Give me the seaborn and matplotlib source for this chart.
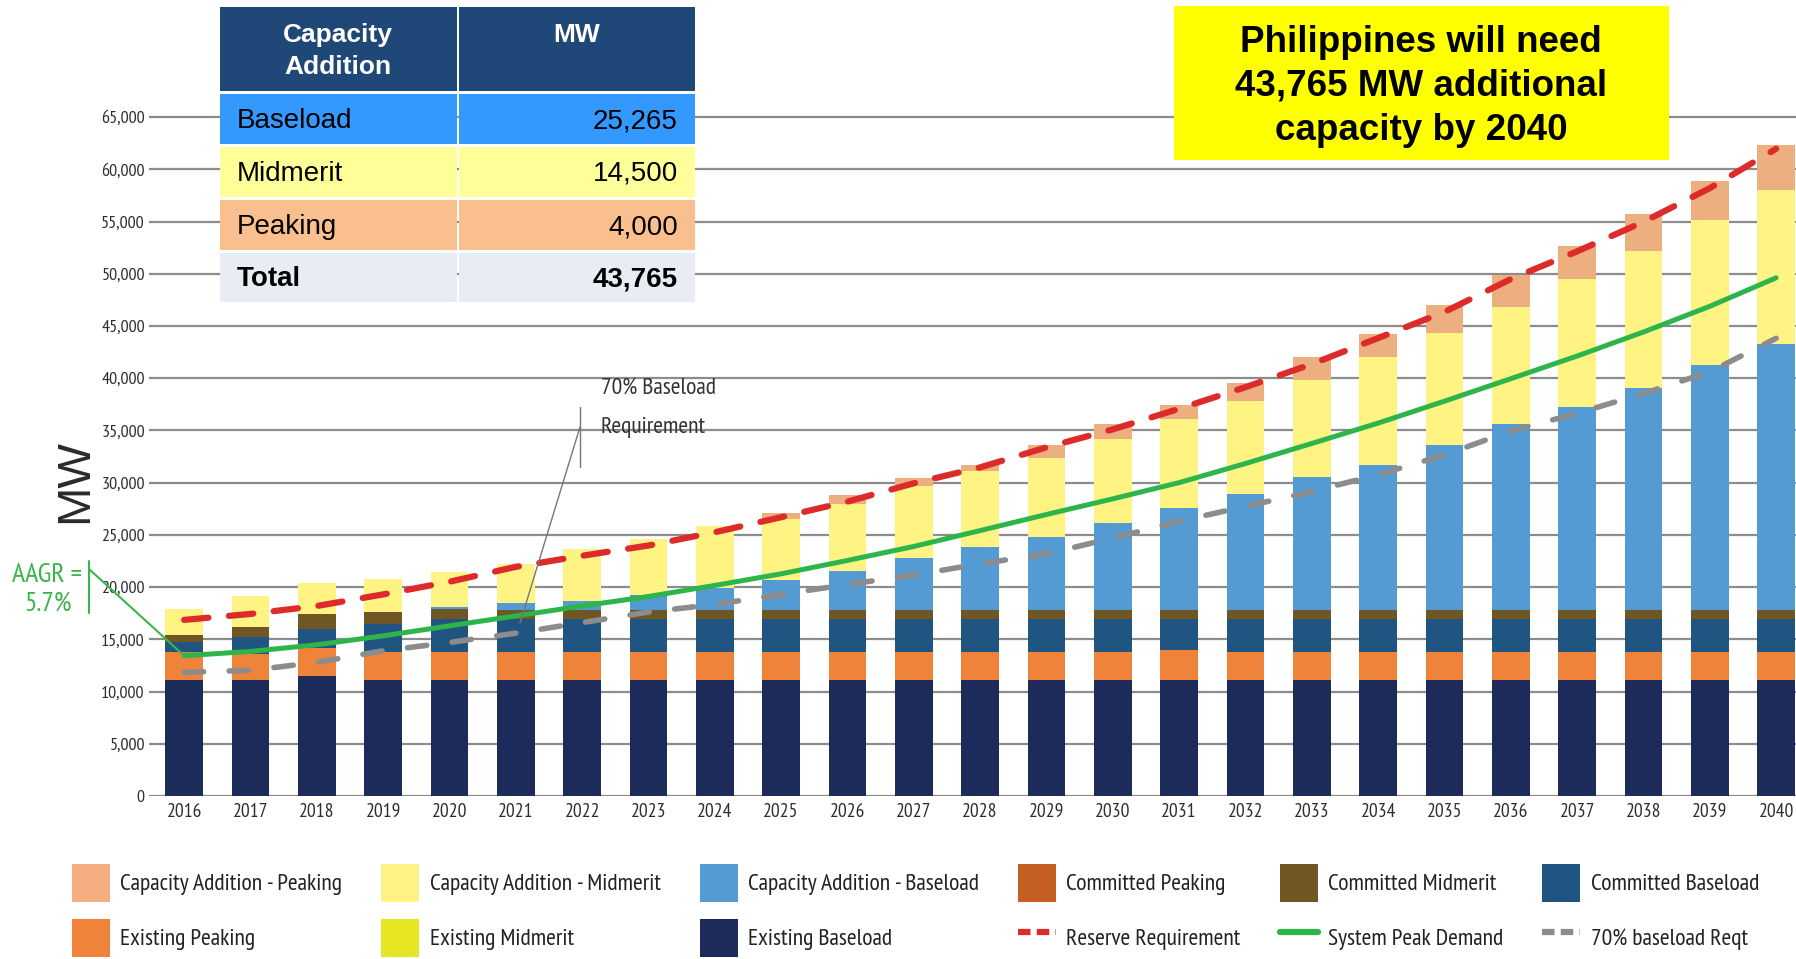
import numpy as np
import pandas as pd
import seaborn as sns
import matplotlib.pyplot as plt
from matplotlib import font_manager
from matplotlib.lines import Line2D
from matplotlib.patches import Patch, Rectangle

# x axis
years = [2016, 2017, 2018, 2019, 2020, 2021, 2022, 2023, 2024, 2025, 2026, 2027, 2028,
         2029, 2030, 2031, 2032, 2033, 2034, 2035, 2036, 2037, 2038, 2039, 2040]

# stacked capacity in MW, bottom to top
existing_baseload = [11080, 11080, 11460, 11100, 11100, 11100, 11100, 11100, 11100, 11100, 11100, 11100, 11100,
                     11100, 11100, 11100, 11100, 11100, 11100, 11100, 11100, 11100, 11100, 11100, 11100]
existing_peaking = [2670, 2480, 2700, 2680, 2680, 2680, 2680, 2680, 2680, 2680, 2680, 2680, 2680,
                    2680, 2680, 2900, 2680, 2680, 2680, 2680, 2680, 2680, 2680, 2680, 2680]
existing_midmerit = [0, 0, 0, 0, 0, 0, 0, 0, 0, 0, 0, 0, 0, 0, 0, 0, 0, 0, 0, 0, 0, 0, 0, 0, 0]
committed_baseload = [1040, 1650, 1870, 2660, 3140, 3120, 3120, 3120, 3120, 3120, 3120, 3120, 3120,
                      3120, 3120, 2900, 3120, 3120, 3120, 3120, 3120, 3120, 3120, 3120, 3120]
committed_midmerit = [640, 1010, 1400, 1210, 950, 900, 900, 900, 900, 900, 900, 900, 900,
                      900, 900, 900, 900, 900, 900, 900, 900, 900, 900, 900, 900]
committed_peaking = [0, 0, 0, 0, 0, 0, 0, 0, 0, 0, 0, 0, 0, 0, 0, 0, 0, 0, 0, 0, 0, 0, 0, 0, 0]
add_baseload = [0, 0, 0, 0, 230, 710, 900, 1400, 2140, 2900, 3730, 5000, 6020,
                7040, 8360, 9780, 11070, 12710, 13920, 15800, 17790, 19450, 21300, 23420, 25460]
add_midmerit = [2470, 2890, 2920, 3140, 3300, 3710, 4980, 5390, 5920, 5830, 6430, 6850, 7260,
                7520, 8020, 8490, 8980, 9270, 10270, 10700, 11260, 12240, 13110, 13900, 14770]
add_peaking = [0, 0, 0, 0, 0, 0, 0, 0, 0, 570, 830, 760, 580,
               1210, 1390, 1360, 1680, 2210, 2250, 2700, 3020, 3140, 3520, 3710, 4310]

# lines in MW
reserve_req = [16860, 17430, 18190, 19300, 20510, 21940, 23000, 23980, 25250, 26690, 28180, 29940, 31460,
               33380, 35100, 37070, 39140, 41350, 43840, 46340, 49490, 52140, 54970, 58190, 61960]
peak_demand = [13430, 13840, 14480, 15330, 16290, 17240, 18190, 19100, 20160, 21270, 22550, 23890, 25410,
               26950, 28450, 30000, 31830, 33750, 35700, 37800, 39950, 42120, 44420, 46880, 49610]
baseload_reqt = [11840, 12030, 12790, 13900, 14700, 15590, 16600, 17610, 18340, 19300, 20250, 21150, 22230,
                 23180, 24690, 26300, 27720, 29150, 30760, 32650, 34940, 36640, 38530, 40610, 43820]

# table and call-out text
table_header = ['Capacity\nAddition', 'MW']
table_rows = ['Baseload', 'Midmerit', 'Peaking', 'Total']
table_mw = ['25,265', '14,500', '4,000', '43,765']
callout_lines = ['Philippines will need', '43,765 MW additional', 'capacity by 2040']

layers = [
    ('Existing Baseload', existing_baseload, '#1D2B5B'),
    ('Existing Peaking', existing_peaking, '#F0833A'),
    ('Existing Midmerit', existing_midmerit, '#E6E522'),
    ('Committed Baseload', committed_baseload, '#1F5580'),
    ('Committed Midmerit', committed_midmerit, '#6F5622'),
    ('Committed Peaking', committed_peaking, '#C55F24'),
    ('Capacity Addition - Baseload', add_baseload, '#549AD3'),
    ('Capacity Addition - Midmerit', add_midmerit, '#FFF383'),
    ('Capacity Addition - Peaking', add_peaking, '#EEAF80'),
]
RED, GREEN, GREY = '#DD2A2A', '#2DB44A', '#8C8C8C'
NOTE_GREEN = '#3AB54A'

W, H = 1796, 959

sns.set_theme(style='white')
installed = {f.name for f in font_manager.fontManager.ttflist}
narrow = next((n for n in ['PT Sans Narrow', 'Roboto Condensed', 'Archivo Narrow', 'Liberation Sans']
               if n in installed), 'DejaVu Sans')
arial = next((n for n in ['Liberation Sans', 'Arimo'] if n in installed), 'DejaVu Sans')
plt.rcParams['font.family'] = [narrow, 'DejaVu Sans']


def fx(px):
    return px / W


def fy(py):
    return 1 - py / H


fig = plt.figure(figsize=(W / 100, H / 100), dpi=100)
ax = fig.add_axes([fx(149), fy(796), 1 - fx(149), (796 - 106.6) / H])

# stacked bars: draw cumulative totals from the top layer down
df = pd.DataFrame({'year': years, **{name: vals for name, vals, _ in layers}})
cum = df[[name for name, _, _ in layers]].cumsum(axis=1)
for name, _, color in reversed(layers):
    sns.barplot(x=df['year'], y=cum[name], color=color, saturation=1, width=0.57,
                errorbar=None, linewidth=0, ax=ax, zorder=2)

xpos = np.arange(len(years))
sns.lineplot(x=xpos, y=peak_demand, color=GREEN, lw=3.6, ax=ax, zorder=4)
sns.lineplot(x=xpos, y=baseload_reqt, color=GREY, lw=4, linestyle=(0, (3.5, 4.6)),
             dash_capstyle='round', ax=ax, zorder=4)
sns.lineplot(x=xpos, y=reserve_req, color=RED, lw=4.5, linestyle=(0, (3.9, 3.3)),
             dash_capstyle='round', ax=ax, zorder=5)

ax.set_xlim(-0.53, 24.3)
ax.set_ylim(0, 66000)
yt = np.arange(0, 65001, 5000)
ax.set_yticks(yt)
ax.set_yticklabels([f'{v:,}' for v in yt])
ax.set_xticks(xpos)
ax.set_xticklabels([str(y) for y in years])
ax.set_xlabel('')
ax.set_ylabel('')
ax.grid(axis='y', color='#8C8C8C', lw=1.6)
ax.grid(axis='x', visible=False)
ax.set_axisbelow(True)
for s in ax.spines.values():
    s.set_visible(False)
ax.tick_params(axis='y', length=0, pad=3, labelsize=13, labelcolor='#2E2E2E')
ax.tick_params(axis='x', length=0, pad=5, labelsize=14, labelcolor='#2E2E2E')

fig.text(fx(75), fy(481), 'MW', rotation=90, fontsize=34, ha='center', va='center',
         color='#2A2A2A', family=arial)

# capacity addition table
col_x = [(220, 457), (459, 695)]
head_y = (7, 91)
row_y = [(94, 144), (147, 197), (200, 250), (253, 302)]
row_colors = ['#3399FF', '#FFFF99', '#F9BF8F', '#E8EDF5']


def box(x0, x1, y0, y1, color, z=5):
    fig.add_artist(Rectangle((fx(x0), fy(y1)), (x1 - x0) / W, (y1 - y0) / H,
                             transform=fig.transFigure, facecolor=color, edgecolor='none', zorder=z))


for (x0, x1) in col_x:
    box(x0, x1, head_y[0], head_y[1], '#1F4778')
fig.text(fx(338), fy(51), table_header[0], ha='center', va='center', fontsize=19, fontweight='bold',
         color='white', family=arial, linespacing=1.4, zorder=6)
fig.text(fx(577), fy(35), table_header[1], ha='center', va='center', fontsize=19, fontweight='bold',
         color='white', family=arial, zorder=6)
for i, (label, mw) in enumerate(zip(table_rows, table_mw)):
    y0, y1 = row_y[i]
    yc = (y0 + y1) / 2 + 2
    for (x0, x1) in col_x:
        box(x0, x1, y0, y1, row_colors[i])
    wt = 'bold' if label == 'Total' else 'normal'
    fig.text(fx(237), fy(yc), label, ha='left', va='center', fontsize=20,
             fontweight=wt, color='black', family=arial, zorder=6)
    fig.text(fx(678), fy(yc), mw, ha='right', va='center', fontsize=20,
             fontweight=wt, color='black', family=arial, zorder=6)

# yellow call-out
box(1174, 1669, 6, 160, '#FFFF00')
for txt, yy in zip(callout_lines, [42, 86, 130]):
    fig.text(fx(1421), fy(yy), txt, ha='center', va='center', fontsize=26.5, fontweight='bold',
             color='black', family=arial, zorder=6)

# AAGR note
fig.text(fx(47), fy(575), 'AAGR =', ha='center', va='center', fontsize=20, color=NOTE_GREEN)
fig.text(fx(48), fy(604), '5.7%', ha='center', va='center', fontsize=20, color=NOTE_GREEN)
fig.add_artist(Line2D([fx(89), fx(89)], [fy(561), fy(613)], transform=fig.transFigure,
                      color=NOTE_GREEN, lw=1.5))
ax.annotate('', xy=(0, peak_demand[0]), xycoords='data', xytext=(fx(89), fy(569)),
            textcoords='figure fraction',
            arrowprops=dict(arrowstyle='-', color=NOTE_GREEN, lw=1.5, shrinkA=0, shrinkB=0))

# 70% baseload note
fig.text(fx(601), fy(389), '70% Baseload', ha='left', va='center', fontsize=17, color='#333333')
fig.text(fx(601), fy(427), 'Requirement', ha='left', va='center', fontsize=17, color='#333333')
fig.add_artist(Line2D([fx(580), fx(580)], [fy(407), fy(467)], transform=fig.transFigure,
                      color='#777777', lw=1))
fig.add_artist(Line2D([fx(580), fx(520)], [fy(427), fy(623)], transform=fig.transFigure,
                      color='#777777', lw=1, zorder=6))

# legend, filled column by column
colors = {name: c for name, _, c in layers}
colors['Capacity Addition - Peaking'] = '#F6AE80'
h = {name: Patch(facecolor=colors[name], edgecolor='none') for name in colors}
h['Reserve Requirement'] = Line2D([], [], color=RED, lw=4.5, linestyle=(0, (2, 1)))
h['System Peak Demand'] = Line2D([], [], color=GREEN, lw=4.5)
h['70% baseload Reqt'] = Line2D([], [], color=GREY, lw=4.5, linestyle=(0, (2, 1)))
order = ['Capacity Addition - Peaking', 'Existing Peaking',
         'Capacity Addition - Midmerit', 'Existing Midmerit',
         'Capacity Addition - Baseload', 'Existing Baseload',
         'Committed Peaking', 'Reserve Requirement',
         'Committed Midmerit', 'System Peak Demand',
         'Committed Baseload', '70% baseload Reqt']
fig.legend([h[k] for k in order], order, ncol=6, loc='upper left',
           bbox_to_anchor=(fx(72), fy(864)), frameon=False, fontsize=17,
           handlelength=1.6, handleheight=2.1, handletextpad=0.45, columnspacing=1.65,
           labelspacing=0.72, borderpad=0, borderaxespad=0, labelcolor='#222222')

fig.savefig('out.png', dpi=100)
